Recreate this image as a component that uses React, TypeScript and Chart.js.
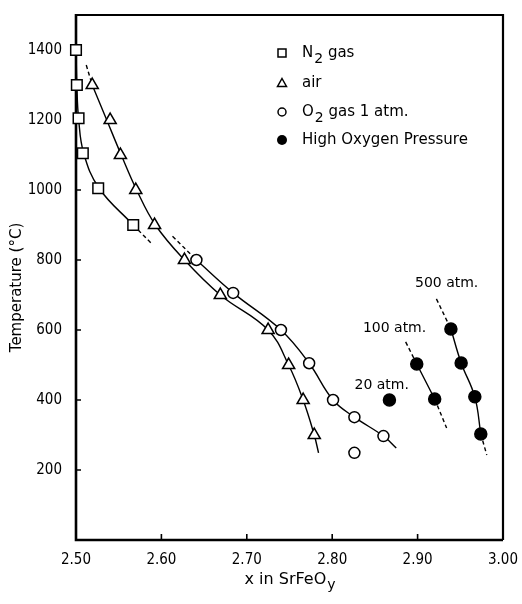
import React, { useEffect, useRef } from "react";
import { Chart, registerables } from "chart.js";
Chart.register(...registerables);

// ---- measured points ----
const n2X = [2.5, 2.501, 2.503, 2.508, 2.526, 2.567];
const n2T = [1400, 1300, 1205, 1105, 1005, 900];
const airX = [2.519, 2.54, 2.552, 2.57, 2.592, 2.627, 2.669, 2.725, 2.749, 2.766, 2.779];
const airT = [1300, 1200, 1100, 1000, 900, 800, 700, 600, 500, 400, 300];
const o2X = [2.641, 2.684, 2.74, 2.773, 2.801, 2.826, 2.86, 2.826];
const o2T = [800, 706, 600, 505, 400, 351, 297, 249];
const hiX = [2.867, 2.899, 2.92, 2.939, 2.951, 2.967, 2.974];
const hiT = [400, 503, 403, 603, 506, 409, 303];

// ---- fitted curves (solid) and extrapolations (dashed) ----
const n2CurveX = [2.5, 2.501, 2.503, 2.509, 2.527, 2.567];
const n2CurveT = [1400, 1300, 1205, 1105, 1005, 900];
const n2DashX = [2.567, 2.588];
const n2DashT = [900, 848];
const airDashX = [2.512, 2.519];
const airDashT = [1357, 1300];
const airCurveX = [2.519, 2.536, 2.553, 2.571, 2.593, 2.627, 2.669, 2.725, 2.749, 2.766, 2.779, 2.784];
const airCurveT = [1300, 1200, 1100, 1000, 900, 800, 700, 600, 500, 400, 300, 249];
const o2DashX = [2.613, 2.641];
const o2DashT = [868, 800];
const o2CurveX = [2.641, 2.684, 2.74, 2.773, 2.801, 2.826, 2.86, 2.875];
const o2CurveT = [800, 706, 600, 505, 400, 351, 297, 263];
const p100DashTopX = [2.886, 2.899];
const p100DashTopT = [566, 503];
const p100X = [2.899, 2.92];
const p100T = [503, 403];
const p100DashBotX = [2.92, 2.934];
const p100DashBotT = [403, 320];
const p500DashTopX = [2.922, 2.939];
const p500DashTopT = [689, 603];
const p500X = [2.939, 2.951, 2.967, 2.974];
const p500T = [603, 506, 409, 303];
const p500DashBotX = [2.974, 2.981];
const p500DashBotT = [303, 243];

// ---- text ----
const legendLabels = [
  ["N", "2", " gas"],
  ["air", "", ""],
  ["O", "2", " gas 1 atm."],
  ["High Oxygen Pressure", "", ""],
];
const annoLabels = ["20 atm.", "100 atm.", "500 atm."];
const annoX = [2.858, 2.873, 2.934];
const annoT = [443, 606, 734];
const xTitle = ["x in SrFeO", "y"];
const yTitle = "Temperature (\u00b0C)";

const TICKFONT = '"DejaVu Sans Condensed", sans-serif';
const FONT = '"DejaVu Sans", sans-serif';
const INK = "#000";

const pts = (xs: number[], ys: number[]) => xs.map((x, i) => ({ x, y: ys[i] }));

const markerBase = {
  showLine: false,
  clip: false as any,
  borderColor: INK,
  borderWidth: 1.5,
  pointBorderWidth: 1.5,
};

const curve = (xs: number[], ys: number[], dashed: boolean) => ({
  data: pts(xs, ys),
  showLine: true,
  borderColor: INK,
  borderWidth: 1.4,
  borderDash: dashed ? [4, 3] : [],
  pointRadius: 0,
  pointHoverRadius: 0,
  tension: 0.4,
  clip: false as any,
});

const decor = {
  id: "decor",
  beforeDatasetsDraw(chart: any) {
    const { ctx, chartArea: a, scales } = chart;
    const x = scales.x, y = scales.y;
    ctx.save();
    ctx.strokeStyle = INK;
    ctx.lineWidth = 2.6;
    ctx.beginPath();
    ctx.moveTo(a.left, a.top - 1);
    ctx.lineTo(a.left, a.bottom);
    ctx.lineTo(a.right, a.bottom);
    ctx.stroke();
    ctx.lineWidth = 2.2;
    ctx.beginPath();
    ctx.moveTo(a.left, a.top);
    ctx.lineTo(a.right, a.top);
    ctx.lineTo(a.right, a.bottom);
    ctx.stroke();
    ctx.lineWidth = 1.6;
    ctx.beginPath();
    x.ticks.forEach((t: any) => {
      const px = x.getPixelForValue(t.value);
      ctx.moveTo(px, a.bottom);
      ctx.lineTo(px, a.bottom - 6);
    });
    y.ticks.forEach((t: any) => {
      if (t.value <= 0) return;
      const py = y.getPixelForValue(t.value);
      ctx.moveTo(a.left, py);
      ctx.lineTo(a.left + 5, py);
    });
    ctx.stroke();
    ctx.restore();
  },
  afterDraw(chart: any) {
    const { ctx, chartArea: a, scales } = chart;
    const x = scales.x, y = scales.y;
    ctx.save();
    ctx.fillStyle = INK;
    ctx.strokeStyle = INK;
    ctx.textBaseline = "middle";
    const mainFont = `15px ${FONT}`;
    const subFont = `14px ${FONT}`;

    // legend
    const symX = a.left + 206;
    const txtX = a.left + 226;
    const rowY = [a.top + 38, a.top + 68, a.top + 97, a.top + 125];
    legendLabels.forEach((lab, i) => {
      const cy = rowY[i];
      ctx.lineWidth = 1.5;
      ctx.beginPath();
      if (i === 0) {
        ctx.rect(symX - 4, cy - 4, 8, 8);
        ctx.stroke();
      } else if (i === 1) {
        ctx.moveTo(symX, cy - 4.5);
        ctx.lineTo(symX + 4.5, cy + 3.5);
        ctx.lineTo(symX - 4.5, cy + 3.5);
        ctx.closePath();
        ctx.stroke();
      } else if (i === 2) {
        ctx.arc(symX, cy, 4, 0, Math.PI * 2);
        ctx.stroke();
      } else {
        ctx.arc(symX, cy, 5, 0, Math.PI * 2);
        ctx.fill();
      }
      ctx.textAlign = "left";
      ctx.font = mainFont;
      let tx = txtX;
      ctx.fillText(lab[0], tx, cy);
      tx += ctx.measureText(lab[0]).width + 1;
      if (lab[1]) {
        ctx.font = subFont;
        ctx.fillText(lab[1], tx, cy + 6);
        tx += ctx.measureText(lab[1]).width;
        ctx.font = mainFont;
      }
      if (lab[2]) ctx.fillText(lab[2], tx, cy);
    });

    // pressure annotations
    ctx.font = `14px ${FONT}`;
    ctx.textAlign = "center";
    annoLabels.forEach((s, i) => {
      ctx.fillText(s, x.getPixelForValue(annoX[i]), y.getPixelForValue(annoT[i]));
    });

    // x-axis title with subscript
    const xf = `16px ${FONT}`;
    const xs = `14px ${FONT}`;
    ctx.font = xf;
    const w0 = ctx.measureText(xTitle[0]).width;
    ctx.font = xs;
    const w1 = ctx.measureText(xTitle[1]).width;
    const cx = (a.left + a.right) / 2;
    const ty = a.bottom + 40;
    ctx.textAlign = "left";
    ctx.font = xf;
    ctx.fillText(xTitle[0], cx - (w0 + w1) / 2, ty);
    ctx.font = xs;
    ctx.fillText(xTitle[1], cx - (w0 + w1) / 2 + w0 + 1, ty + 5);

    // y-axis title
    ctx.save();
    ctx.translate(17, (a.top + a.bottom) / 2 + 10);
    ctx.rotate(-Math.PI / 2);
    ctx.font = mainFont;
    ctx.textAlign = "center";
    ctx.fillText(yTitle, 0, 0);
    ctx.restore();
    ctx.restore();
  },
};

export default function App() {
  const ref = useRef<HTMLCanvasElement>(null);
  useEffect(() => {
    document.body.style.margin = "0";
    const chart = new Chart(ref.current as HTMLCanvasElement, {
      type: "scatter",
      data: {
        datasets: [
          { ...markerBase, label: "N2 gas", data: pts(n2X, n2T), pointStyle: "rect", pointRadius: 7.5, pointBackgroundColor: "#fff", backgroundColor: "#fff" },
          { ...markerBase, label: "air", data: pts(airX, airT), pointStyle: "triangle", pointRadius: 7, pointBackgroundColor: "#fff", backgroundColor: "#fff" },
          { ...markerBase, label: "O2 gas 1 atm.", data: pts(o2X, o2T), pointStyle: "circle", pointRadius: 5.5, pointBackgroundColor: "#fff", backgroundColor: "#fff" },
          { ...markerBase, label: "High Oxygen Pressure", data: pts(hiX, hiT), pointStyle: "circle", pointRadius: 6, pointBackgroundColor: INK, backgroundColor: INK },
          curve(n2CurveX, n2CurveT, false),
          curve(n2DashX, n2DashT, true),
          curve(airDashX, airDashT, true),
          curve(airCurveX, airCurveT, false),
          curve(o2DashX, o2DashT, true),
          curve(o2CurveX, o2CurveT, false),
          curve(p100DashTopX, p100DashTopT, true),
          curve(p100X, p100T, false),
          curve(p100DashBotX, p100DashBotT, true),
          curve(p500DashTopX, p500DashTopT, true),
          curve(p500X, p500T, false),
          curve(p500DashBotX, p500DashBotT, true),
        ] as any,
      },
      options: {
        responsive: false,
        animation: false,
        events: [],
        layout: { padding: { top: 13, right: 19, left: 0, bottom: 0 } },
        plugins: { legend: { display: false }, tooltip: { enabled: false } },
        scales: {
          x: {
            type: "linear",
            min: 2.5,
            max: 3.0,
            offset: false,
            grid: { display: false },
            border: { display: false },
            ticks: {
              stepSize: 0.1,
              autoSkip: false,
              maxRotation: 0,
              padding: 3,
              color: INK,
              font: { family: TICKFONT, size: 15 },
              callback: (v: any) => Number(v).toFixed(2),
            },
            afterFit: (s: any) => { s.height = 64; },
          },
          y: {
            type: "linear",
            min: 0,
            max: 1500,
            grid: { display: false },
            border: { display: false },
            title: { display: false },
            ticks: {
              stepSize: 200,
              includeBounds: false,
              autoSkip: false,
              padding: 6,
              color: INK,
              font: { family: TICKFONT, size: 15 },
              callback: (v: any) => (Number(v) === 0 ? "" : String(v)),
            },
            afterFit: (s: any) => { s.width = 76; },
          },
        },
      } as any,
      plugins: [decor],
    });
    return () => chart.destroy();
  }, []);
  return (
    <div style={{ width: 522, height: 604 }}>
      <canvas ref={ref} width={522} height={604} style={{ display: "block" }} />
    </div>
  );
}
